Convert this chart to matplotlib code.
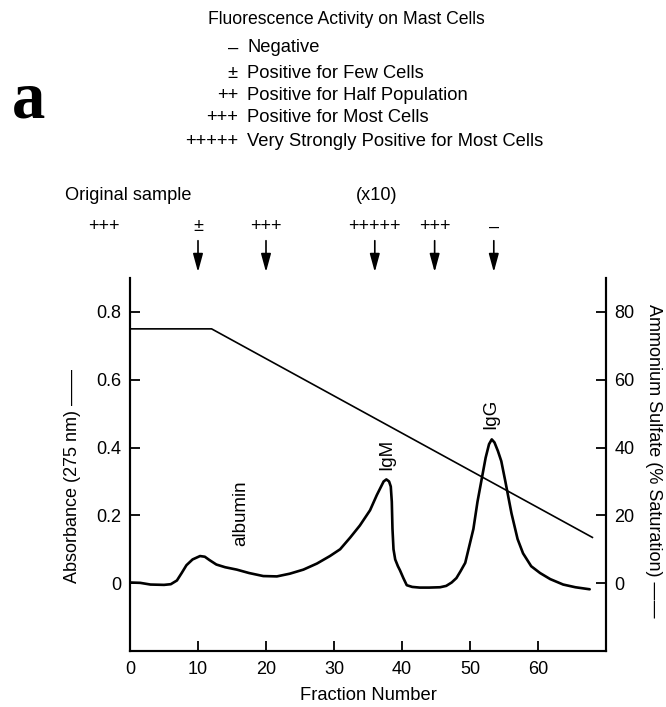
import numpy as np
import matplotlib
matplotlib.use("Agg")
import matplotlib.pyplot as plt

plt.rcParams['font.family'] = ['Liberation Sans', 'DejaVu Sans']

# --- absorbance trace (275 nm) along the column ---
fraction = [0, 1.5, 3, 5, 6, 6.9, 7.6, 8.3, 9.2, 10.3, 11.0, 11.7, 12.7, 14,
            15.7, 17.5, 19.6, 21.6, 23.5, 25.5, 27.5, 29.4, 30.9, 32.4, 33.8,
            35.3, 36.3, 36.8, 37.3, 37.7, 38.1, 38.35, 38.5, 38.6, 38.75, 39.0,
            39.4, 39.7, 40.2, 40.7, 41.5, 42.6, 44, 45.6, 46.5, 47.3, 48.0,
            48.6, 49.3, 49.9, 50.5, 51.1, 51.7, 52.3, 52.8, 53.2, 53.6, 54.1,
            54.6, 55.2, 56.1, 57, 57.8, 59, 60.3, 61.8, 63.7, 65.5, 67.6]
absorbance = [0.002, 0.001, -0.004, -0.005, -0.003, 0.008, 0.03, 0.053, 0.07,
              0.08, 0.078, 0.068, 0.055, 0.047, 0.04, 0.03, 0.021, 0.02,
              0.028, 0.04, 0.058, 0.08, 0.1, 0.135, 0.17, 0.215, 0.26, 0.28,
              0.3, 0.306, 0.3, 0.285, 0.24, 0.16, 0.1, 0.07, 0.05, 0.038,
              0.015, -0.006, -0.011, -0.013, -0.013, -0.012, -0.008, 0.002,
              0.015, 0.035, 0.06, 0.11, 0.16, 0.24, 0.305, 0.37, 0.41, 0.424,
              0.415, 0.39, 0.36, 0.3, 0.206, 0.13, 0.088, 0.05, 0.03, 0.012,
              -0.004, -0.012, -0.018]

# --- ammonium sulfate gradient ---
grad_fraction = [0, 12, 68]
saturation = [75, 75, 13.5]

# --- peak labels ---
peak_names = ["albumin", "IgM", "IgG"]
peak_x = [16.3, 37.7, 53.1]
peak_y = [0.205, 0.38, 0.50]

# --- fluorescence scores of pooled fractions ---
arrow_x = [10, 20, 36, 44.8, 53.5]
arrow_scores = ["±", "+++", "+++++", "+++", "–"]

legend_symbols = ["–", "±", "++", "+++", "+++++"]
legend_text = ["Negative", "Positive for Few Cells", "Positive for Half Population",
               "Positive for Most Cells", "Very Strongly Positive for Most Cells"]
legend_rows_y = [48, 73, 96, 118, 141]

W, H = 666, 707
fig = plt.figure(figsize=(W / 100, H / 100), dpi=100)
ax = fig.add_axes([130 / W, 1 - 651 / H, 476 / W, 373 / H])
ax2 = ax.twinx()

ax.plot(fraction, absorbance, color='black', lw=1.9, solid_capstyle='round',
        solid_joinstyle='round')
ax2.plot(grad_fraction, saturation, color='black', lw=1.2)

ax.set_xlim(0, 70)
ax.set_ylim(-0.2, 0.9)
ax2.set_ylim(-20, 90)

ax.set_xticks([0, 10, 20, 30, 40, 50, 60])
ax.set_yticks([0, 0.2, 0.4, 0.6, 0.8])
ax.set_yticklabels(["0", "0.2", "0.4", "0.6", "0.8"])
ax2.set_yticks([0, 20, 40, 60, 80])

for a in (ax, ax2):
    a.spines['top'].set_visible(False)
    for s in ('left', 'right', 'bottom'):
        a.spines[s].set_linewidth(1.5)
    a.tick_params(direction='in', length=7, width=1.3, labelsize=13, pad=6)
ax.tick_params(axis='x', pad=7)

ax.set_xlabel("Fraction Number", fontsize=13.2, labelpad=7)
ax.text(-0.12, 0.47, "Absorbance (275 nm) ——", rotation=90, fontsize=13,
        ha='center', va='center', transform=ax.transAxes)
ax.text(1.099, 0.51, "Ammonium Sulfate (% Saturation) ——", rotation=-90,
        fontsize=13, ha='center', va='center', transform=ax.transAxes)

for name, px, py in zip(peak_names, peak_x, peak_y):
    ax.text(px, py, name, rotation=90, fontsize=13.5, ha='center', va='center')

# arrows and scores above the plot
trans = ax.get_xaxis_transform()
for xa, sc in zip(arrow_x, arrow_scores):
    ax.annotate('', xy=(xa, 1.016), xytext=(xa, 1.10), xycoords=trans,
                textcoords=trans,
                arrowprops=dict(arrowstyle='-|>,head_width=0.3,head_length=1.1',
                                color='black', lw=1.2, shrinkA=0, shrinkB=0))
    ax.text(xa, 1.137, sc, transform=trans, ha='center', va='center', fontsize=13)

ax.text(-0.055, 1.137, "+++", transform=ax.transAxes, ha='center', va='center',
        fontsize=13)
ax.text(-0.137, 1.222, "Original sample", transform=ax.transAxes, ha='left',
        va='center', fontsize=13.1)
ax.text(36.3, 1.222, "(x10)", transform=trans, ha='center', va='center',
        fontsize=13.1)

# legend block for the fluorescence scores
fig.text(346 / W, 1 - 19 / H, "Fluorescence Activity on Mast Cells",
         ha='center', va='center', fontsize=12.7)
for sym, txt, ry in zip(legend_symbols, legend_text, legend_rows_y):
    fig.text(238 / W, 1 - ry / H, sym, ha='right', va='center', fontsize=13.2)
    fig.text(247 / W, 1 - ry / H, txt, ha='left', va='center', fontsize=13.2)

fig.text(12 / W, 1 - 118 / H, "a", family='Liberation Serif', fontweight='bold',
         fontsize=48, ha='left', va='baseline')

fig.savefig("out.png", dpi=100)
